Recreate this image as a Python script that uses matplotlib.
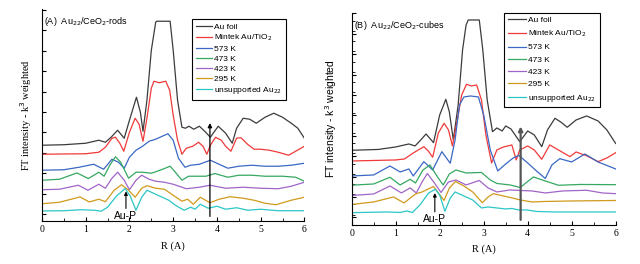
import matplotlib.pyplot as plt
import numpy as np

# ---- data: R (A) and FT intensity (arbitrary units)
labels = ['Au foil', 'Mintek Au/TiO$_2$', '573 K', '473 K', '423 K', '295 K',
          'unsupported Au$_{22}$']
colors = ['#3c3c3c', '#f03a3a', '#3a68c4', '#35a862', '#a065c8', '#d09a1c', '#2cc6c6']

# panel A: Au22/CeO2-rods
a_foil_r = [0, 0.5, 1.0, 1.3, 1.45, 1.58, 1.73, 1.88, 2.0, 2.16, 2.25, 2.31, 2.4, 2.5, 2.6, 2.62,
            2.93, 3.0, 3.1, 3.2, 3.28, 3.36, 3.47, 3.6, 3.72, 3.85, 4.03, 4.2, 4.35, 4.45, 4.6,
            4.75, 4.9, 5.1, 5.3, 5.5, 5.7, 5.85, 6.0]
a_foil = [76, 76.5, 78, 81, 79, 84, 91, 83, 101, 124, 109, 90, 121, 171, 199, 200,
          200, 171, 121, 94, 93, 95, 92, 95, 90, 84, 95, 88, 78, 93, 103,
          102, 98, 104, 108, 104, 98, 93, 83]
a_mint_r = [0, 1.0, 1.3, 1.45, 1.6, 1.68, 1.78, 1.87, 2.0, 2.13, 2.22, 2.31, 2.4, 2.5, 2.56, 2.68,
            2.83, 2.92, 3.0, 3.1, 3.2, 3.3, 3.45, 3.58, 3.68, 3.77, 3.85, 3.97, 4.1, 4.2, 4.32,
            4.45, 4.55, 4.7, 4.85, 5.0, 5.2, 5.4, 5.64, 5.8, 6.0]
a_mint = [67, 67.5, 69, 74, 83, 84, 78, 70, 89, 103, 97, 80, 103, 133, 140, 138.5,
          140, 131, 106, 81, 67, 73, 75, 79, 75, 67, 76, 84, 81, 75, 70,
          83, 83.5, 77, 72, 72, 71, 69, 66, 70, 75]
a_573_r = [0, 0.5, 0.85, 1.18, 1.41, 1.6, 1.75, 1.88, 2.0, 2.15, 2.3, 2.45, 2.6, 2.75, 2.88,
           3.0, 3.12, 3.27, 3.4, 3.6, 3.85, 4.05, 4.25, 4.5, 4.8, 5.1, 5.4, 5.7, 6.0]
a_573 = [51, 51.5, 54, 57, 52, 62, 59, 53, 64, 71, 75, 80, 82, 85, 87.5,
         81, 63, 54, 56, 57, 61, 57, 53, 55, 56, 55, 55, 56, 58]
a_473_r = [0, 0.4, 0.8, 1.06, 1.3, 1.42, 1.55, 1.68, 1.8, 1.98, 2.15, 2.3, 2.5, 2.7, 2.93,
           3.05, 3.2, 3.35, 3.55, 3.75, 3.95, 4.25, 4.5, 4.8, 5.1, 5.5, 5.8, 6.0]
a_473 = [41, 42, 48.3, 42.7, 49, 45, 56, 64.5, 59, 43, 49, 49, 48, 51, 55,
         49, 41, 45, 45, 45, 47.7, 44, 46, 46, 45, 45, 44, 40]
a_423_r = [0, 0.4, 0.83, 1.05, 1.3, 1.45, 1.6, 1.73, 1.88, 2.0, 2.15, 2.28, 2.45, 2.6, 2.8,
           3.0, 3.3, 3.6, 3.84, 4.2, 4.6, 5.0, 5.4, 5.7, 6.0]
a_423 = [31.5, 32, 36, 31, 37, 33, 43, 49, 41, 31.5, 41, 46, 42, 40, 39,
         37, 32.5, 34, 36, 33, 34, 33, 32.5, 35, 39]
a_295_r = [0, 0.4, 0.87, 1.08, 1.3, 1.45, 1.65, 1.82, 1.98, 2.13, 2.28, 2.4, 2.6, 2.8, 3.0,
           3.2, 3.33, 3.46, 3.62, 3.84, 4.05, 4.3, 4.6, 4.85, 5.1, 5.35, 5.7, 6.0]
a_295 = [17.5, 19, 24.3, 19.3, 22, 19.5, 31, 36.5, 31, 24, 33, 35.5, 33, 32, 26,
         20, 22, 17, 24, 18.5, 22, 24.5, 23, 21, 18, 16.5, 21, 24]
a_au22_r = [0, 0.5, 0.9, 1.2, 1.35, 1.5, 1.7, 1.9, 2.02, 2.15, 2.28, 2.4, 2.55, 2.7, 2.9,
            3.05, 3.25, 3.4, 3.5, 3.62, 3.8, 4.0, 4.2, 4.45, 4.7, 5.0, 5.4, 6.0]
a_au22 = [10.3, 10.5, 11.5, 11, 10, 14, 25, 32.7, 25, 11, 24, 31, 28, 25, 21,
          16, 11, 14, 12, 17, 13, 15, 12, 13.5, 11, 12, 10.5, 10.5]

# panel B: Au22/CeO2-cubes
b_foil_r = [0, 0.6, 1.0, 1.3, 1.44, 1.57, 1.69, 1.86, 2.0, 2.14, 2.22, 2.31, 2.42, 2.52, 2.6,
            2.65, 2.9, 2.98, 3.08, 3.2, 3.3, 3.42, 3.5, 3.62, 3.82, 4.0, 4.15, 4.32, 4.45,
            4.62, 4.75, 4.9, 5.1, 5.34, 5.6, 5.8, 6.0]
b_foil = [74.4, 75.2, 77.7, 80.7, 78.7, 84.7, 90.7, 82, 109.7, 125.4, 112.7, 84.7, 119.7, 174.7,
          199.7, 204.7, 204.7, 174.7, 124.7, 93, 96.7, 93.7, 98.7, 95.7, 83, 93.7, 89.7, 78,
          94.7, 106.4, 102.7, 97.4, 104.7, 108.7, 103.7, 94.7, 81.2]
b_mint_r = [0, 1.0, 1.2, 1.4, 1.64, 1.74, 1.84, 1.97, 2.1, 2.2, 2.29, 2.4, 2.5, 2.61, 2.72,
            2.84, 2.95, 3.05, 3.18, 3.3, 3.45, 3.64, 3.74, 3.82, 4.0, 4.15, 4.32, 4.5, 4.7,
            4.96, 5.1, 5.35, 5.6, 5.8, 6.0]
b_mint = [63.7, 64.7, 65.7, 71.7, 78, 73.7, 67.4, 91.7, 101.4, 94.7, 78.7, 104.7, 129.7, 140.4,
          138.7, 139.7, 124.7, 89.7, 61.7, 74.7, 77.7, 79.7, 64.7, 74.7, 78.7, 74.7, 65.4,
          79.7, 74.7, 68, 72.7, 68.7, 63, 66.7, 72]
b_573_r = [0, 0.5, 0.87, 1.1, 1.3, 1.4, 1.64, 1.84, 2.05, 2.24, 2.35, 2.45, 2.55, 2.7, 2.88,
           3.0, 3.15, 3.32, 3.5, 3.67, 3.8, 4.0, 4.2, 4.4, 4.55, 4.73, 5.0, 5.3, 5.6, 6.0]
b_573 = [48.7, 49.7, 58.7, 52.7, 55.7, 48.7, 63, 54.7, 73, 61.4, 84.7, 119.7, 127.7, 128.7,
         127.7, 109.7, 74.7, 53.7, 60.7, 66.7, 69.2, 61.7, 53.7, 46.2, 59.7, 66, 62.7, 70.7,
         62.7, 55.7]
b_473_r = [0, 0.5, 0.87, 1.1, 1.33, 1.45, 1.62, 1.78, 1.95, 2.08, 2.22, 2.37, 2.6, 2.95,
           3.15, 3.3, 3.6, 3.83, 4.13, 4.4, 4.7, 5.2, 6.0]
b_473 = [39.5, 40.7, 47.4, 39.7, 45.4, 41.7, 54.7, 59.7, 47.7, 39.7, 50.7, 54.7, 51.7, 52.2,
         44.7, 41.2, 39.7, 37.2, 47.7, 43.7, 39.4, 40.2, 40]
b_423_r = [0, 0.5, 0.87, 1.13, 1.33, 1.47, 1.6, 1.72, 1.88, 2.03, 2.2, 2.37, 2.6, 2.9, 3.1,
           3.3, 3.6, 3.83, 4.1, 4.4, 4.8, 5.34, 5.7, 6.0]
b_423 = [29.2, 30.7, 38.7, 31.7, 36.7, 31.7, 42.7, 51.2, 41.7, 32.2, 42.7, 44.7, 39.7, 44.2,
         36.7, 32.7, 34.7, 34.2, 33.7, 31.7, 33.7, 34.4, 31.7, 31]
b_295_r = [0, 0.5, 0.95, 1.19, 1.45, 1.6, 1.86, 2.1, 2.22, 2.36, 2.55, 2.75, 2.97, 3.1, 3.22,
           3.45, 3.65, 3.83, 4.1, 4.4, 5.0, 6.0]
b_295 = [20.2, 22.7, 27.7, 21.7, 30.7, 32.7, 38.2, 24.2, 36.7, 43.2, 38.7, 32.7, 22, 27.7, 31,
         28.7, 26.7, 24.7, 22.7, 23.2, 23.7, 24.2]
b_au22_r = [0, 0.8, 1.1, 1.25, 1.38, 1.55, 1.75, 1.9, 2.0, 2.12, 2.24, 2.35, 2.55, 2.75, 2.95,
            3.1, 3.3, 3.5, 3.64, 3.8, 3.98, 4.2, 4.6, 5.2, 6.0]
b_au22 = [12, 12.7, 12.2, 13.7, 12.2, 19.7, 31.7, 35.4, 29.7, 13.4, 26.7, 32.7, 28.7, 24.7,
          16.7, 17.7, 16.7, 15.7, 16.2, 14.7, 14.7, 13.2, 12.7, 12.7, 12.7]

panel_a = [(a_foil_r, a_foil), (a_mint_r, a_mint), (a_573_r, a_573), (a_473_r, a_473),
           (a_423_r, a_423), (a_295_r, a_295), (a_au22_r, a_au22)]
panel_b = [(b_foil_r, b_foil), (b_mint_r, b_mint), (b_573_r, b_573), (b_473_r, b_473),
           (b_423_r, b_423), (b_295_r, b_295), (b_au22_r, b_au22)]

serif = 'Liberation Serif'
sans = 'Liberation Sans'

fig = plt.figure(figsize=(6.4, 2.64), dpi=100)
axA = fig.add_axes([0.0656, 0.162, 0.41, 0.803])
axB = fig.add_axes([0.5495, 0.149, 0.4125, 0.803])


def setup(ax, title, ylab_font, legend_anchor, lab_sp, hlen, arrow_col, arrow_lw, aup_r, aup_tip):
    ax.set_xlim(0, 6)
    ax.set_ylim(0, 212)
    for s in ['top', 'right']:
        ax.spines[s].set_visible(False)
    ax.set_xticks(range(7))
    ax.set_xticks(np.arange(0.5, 6, 1), minor=True)
    ax.tick_params(axis='x', which='major', direction='in', length=3, labelsize=7, pad=3)
    ax.tick_params(axis='x', which='minor', direction='in', length=2)
    for t in ax.get_xticklabels():
        t.set_fontfamily(serif)
    ax.set_yticks(np.arange(7.3, 212, 20.4))
    ax.tick_params(axis='y', direction='in', length=3, labelleft=False)
    ax.set_xlabel('R (A)', fontfamily=serif, fontsize=7.5, labelpad=5)
    ax.set_ylabel('FT intensity - k$^3$ weighted', fontfamily=ylab_font, fontsize=7.5,
                  labelpad=6)
    ax.text(0.008, 0.94, title, transform=ax.transAxes, fontfamily=sans, fontsize=6.5,
            va='center', ha='left')
    ax.legend(loc='upper right', bbox_to_anchor=legend_anchor,
              prop={'family': sans, 'size': 6}, frameon=True, fancybox=False,
              edgecolor='black', framealpha=1, handlelength=hlen, handletextpad=0.25,
              labelspacing=lab_sp, borderpad=0.45, borderaxespad=0)
    ax.legend_.get_frame().set_linewidth(0.8)
    # Au-P marker
    ax.annotate('', xy=(aup_r, aup_tip), xytext=(aup_r, 10),
                arrowprops=dict(arrowstyle='-|>', color='black', lw=0.8,
                                mutation_scale=5))
    ax.text(aup_r, 5.5, 'Au-P', fontfamily=sans, fontsize=7.5, ha='center', va='center')
    # vertical marker near 3.84 A
    ax.annotate('', xy=(3.84, 101), xytext=(3.84, 2),
                arrowprops=dict(arrowstyle='-|>', color=arrow_col, lw=arrow_lw,
                                mutation_scale=6))


for (r, v), lab, c in zip(panel_a, labels, colors):
    axA.plot(r, v, color=c, lw=0.9, label=lab)
for (r, v), lab, c in zip(panel_b, labels, colors):
    axB.plot(r, v, color=c, lw=0.9, label=lab)

setup(axA, '(A)  Au$_{22}$/CeO$_2$-rods', serif, (0.929, 0.954), 0.26, 1.9,
      'black', 0.9, 1.92, 32.6)
setup(axB, '(B)  Au$_{22}$/CeO$_2$-cubes', sans, (0.94, 1.0), 0.53, 2.2,
      '#555555', 1.6, 1.89, 34.4)
axB.set_yticks(np.arange(10, 212, 10.2), minor=True)
axB.tick_params(axis='y', which='minor', direction='in', length=2)

fig.savefig('out.png', dpi=100)
